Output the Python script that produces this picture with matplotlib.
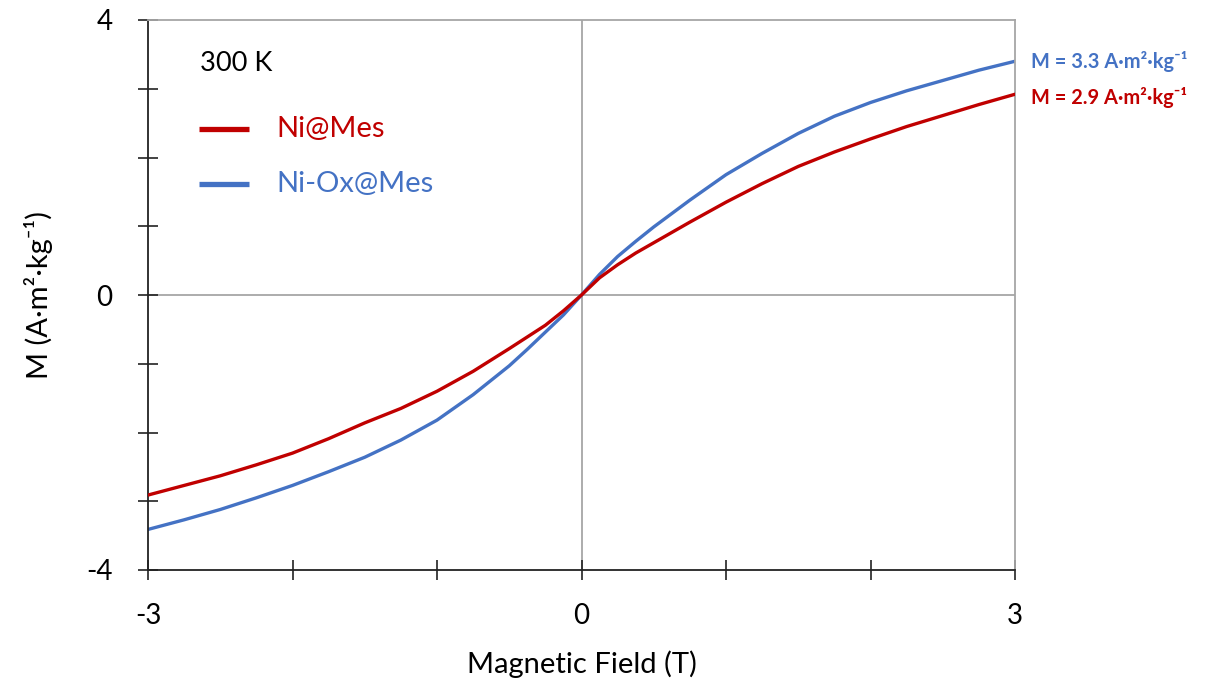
import matplotlib
matplotlib.use("Agg")
import matplotlib.pyplot as plt
from matplotlib.ticker import FixedLocator, FuncFormatter

plt.rcParams['font.family'] = ['Lato', 'DejaVu Sans']

# Magnetic field (T)
field = [-3.0, -2.75, -2.5, -2.25, -2.0, -1.75, -1.5, -1.25, -1.0, -0.75, -0.5, -0.375, -0.25, -0.125, 0.0,
         0.125, 0.25, 0.375, 0.5, 0.75, 1.0, 1.25, 1.5, 1.75, 2.0, 2.25, 2.5, 2.75, 3.0]

# Magnetisation (A·m²·kg⁻¹)
m_ni_mes = [-2.91, -2.77, -2.63, -2.47, -2.30, -2.09, -1.86, -1.65, -1.40, -1.11, -0.78, -0.61, -0.44, -0.23, 0.0,
            0.25, 0.44, 0.61, 0.76, 1.06, 1.35, 1.62, 1.87, 2.08, 2.27, 2.45, 2.61, 2.77, 2.92]
m_niox_mes = [-3.41, -3.27, -3.12, -2.95, -2.77, -2.57, -2.36, -2.11, -1.82, -1.45, -1.03, -0.79, -0.54, -0.29, 0.0,
              0.30, 0.56, 0.78, 0.99, 1.38, 1.75, 2.06, 2.35, 2.60, 2.80, 2.97, 3.12, 3.27, 3.40]

series_names = ["Ni@Mes", "Ni-Ox@Mes"]
end_labels = ["M = 2.9 A·m²·kg⁻¹", "M = 3.3 A·m²·kg⁻¹"]
x_ticks = [-3, -2, -1, 0, 1, 2, 3]
x_labelled = [-3, 0, 3]
y_ticks = [-4, -3, -2, -1, 0, 1, 2, 3, 4]
y_labelled = [-4, 0, 4]

RED = "#C00000"
BLUE = "#4472C4"
GRAY = "#A6A6A6"

fig = plt.figure(figsize=(12.08, 6.8), dpi=100)
ax = fig.add_axes([148/1208, 110/680, 867/1208, 550/680])

ax.axhline(0, color=GRAY, lw=1.3, zorder=1)
ax.axvline(0, color=GRAY, lw=1.3, zorder=1)

ax.plot(field, m_ni_mes, color=RED, lw=2.4, zorder=3, solid_capstyle='round', solid_joinstyle='round')
ax.plot(field, m_niox_mes, color=BLUE, lw=2.4, zorder=2, solid_capstyle='round', solid_joinstyle='round')

ax.set_xlim(-3, 3)
ax.set_ylim(-4, 4)

for s in ['top', 'right']:
    ax.spines[s].set_color(GRAY)
    ax.spines[s].set_linewidth(1.3)
for s in ['left', 'bottom']:
    ax.spines[s].set_color('#222222')
    ax.spines[s].set_linewidth(1.3)

ax.xaxis.set_major_locator(FixedLocator(x_ticks))
ax.yaxis.set_major_locator(FixedLocator(y_ticks))
ax.xaxis.set_major_formatter(FuncFormatter(lambda v, p: f"{v:g}" if round(v) in x_labelled else ""))
ax.yaxis.set_major_formatter(FuncFormatter(lambda v, p: f"{v:g}" if round(v) in y_labelled else ""))
ax.tick_params(axis='both', direction='inout', length=15, width=1.2, color='#222222',
               labelsize=20, labelcolor='black')
ax.tick_params(axis='x', pad=16)
ax.tick_params(axis='y', pad=18)

ax.set_xlabel("Magnetic Field (T)", fontsize=21, labelpad=16)
ax.set_ylabel("M (A·m²·kg⁻¹)", fontsize=21, labelpad=24)

# annotations inside
ax.text(-2.64, 3.37, "300 K", fontsize=19.5, color='black', va='center', ha='left')
ax.plot([-2.65, -2.30], [2.41, 2.41], color=RED, lw=3.8, solid_capstyle='butt')
ax.plot([-2.65, -2.30], [1.61, 1.61], color=BLUE, lw=3.8, solid_capstyle='butt')
ax.text(-2.11, 2.41, series_names[0], fontsize=21, color=RED, va='center', ha='left')
ax.text(-2.11, 1.61, series_names[1], fontsize=21, color=BLUE, va='center', ha='left')

# end labels
ax.text(3.114, 3.39, end_labels[1], fontsize=14.4, fontweight='bold',
        color=BLUE, va='center', ha='left', clip_on=False)
ax.text(3.114, 2.87, end_labels[0], fontsize=14.4, fontweight='bold',
        color=RED, va='center', ha='left', clip_on=False)

fig.savefig("out.png", dpi=100, facecolor='white')
